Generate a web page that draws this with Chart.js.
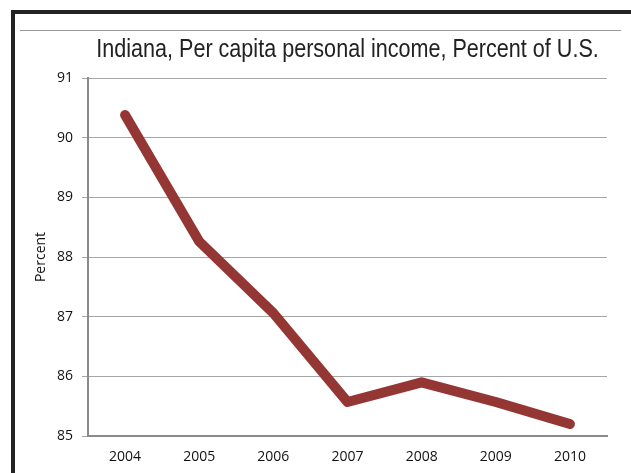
<!DOCTYPE html>
<html>
<head>
<meta charset="utf-8">
<script src="https://cdn.jsdelivr.net/npm/chart.js@4"></script>
<style>
  html, body { margin:0; padding:0; background:#fff; }
  #wrap { position:relative; width:631px; height:473px; overflow:hidden; }
  #frame { position:absolute; left:11px; top:10px; width:640px; height:480px;
           border-top:4px solid #222; border-left:4px solid #222; }
  #rule { position:absolute; left:20px; top:30px; width:601px; height:1px; background:#9a9a9a; }
  canvas { position:absolute; left:0; top:0; }
</style>
</head>
<body>
<div id="wrap">
  <div id="frame"></div>
  <div id="rule"></div>
  <canvas id="incomeChart" width="631" height="473"></canvas>
</div>
<script>
const years = ['2004','2005','2006','2007','2008','2009','2010'];
const pctOfUS = [90.38, 88.26, 87.06, 85.57, 85.9, 85.57, 85.2];
const yTicks = [85, 86, 87, 88, 89, 90, 91];
const chartTitle = 'Indiana, Per capita personal income, Percent of U.S.';

// narrow title centred over the plot area (no Arial Narrow here, so squeeze it)
const narrowTitle = {
  id:'narrowTitle',
  afterDraw(chart){
    const c = chart.ctx, a = chart.chartArea;
    c.save();
    c.font = "26px 'Liberation Sans', Arial, sans-serif";
    c.fillStyle = '#222';
    c.textAlign = 'center';
    c.textBaseline = 'alphabetic';
    c.translate((a.left + a.right) / 2, 57);
    c.scale(0.83, 1);
    c.fillText(chartTitle, 0, 0);
    c.restore();
  }
};

const ctx = document.getElementById('incomeChart').getContext('2d');
const tickFont = { family:"'Open Sans', 'Liberation Sans', sans-serif", size:14 };

new Chart(ctx, {
  type: 'line',
  data: {
    labels: years,
    datasets: [
      { label:'Percent of U.S.', data:pctOfUS, borderColor:'#943634', borderWidth:10,
        borderCapStyle:'round', borderJoinStyle:'round', pointRadius:0, fill:false, tension:0 }
    ]
  },
  options: {
    responsive:false,
    animation:false,
    devicePixelRatio:1,
    layout:{ padding:{ left:16, right:24, top:78, bottom:0 } },
    plugins:{
      legend:{ display:false },
      tooltip:{ enabled:false },
      title:{ display:false }
    },
    scales:{
      x:{
        offset:true,
        grid:{ display:false, drawTicks:false },
        border:{ display:true, color:'#8a8a8a', width:2 },
        ticks:{ color:'#111', padding:13, font:tickFont },
        afterFit:(s)=>{ s.height = 37; }
      },
      y:{
        min:85, max:91,
        afterBuildTicks:(s)=>{ s.ticks = yTicks.map(v=>({ value:v })); },
        grid:{ color:'#a6a6a6', lineWidth:1, drawTicks:true, tickLength:6 },
        border:{ display:true, color:'#8a8a8a', width:2 },
        ticks:{ color:'#111', padding:9, font:tickFont },
        title:{ display:true, text:'Percent', color:'#111', padding:{ top:17, bottom:0 },
                font:{ family:"'Open Sans', 'Liberation Sans', sans-serif", size:14 } },
        afterFit:(s)=>{ s.width = 72; }
      }
    }
  },
  plugins:[narrowTitle]
});
</script>
</body>
</html>
